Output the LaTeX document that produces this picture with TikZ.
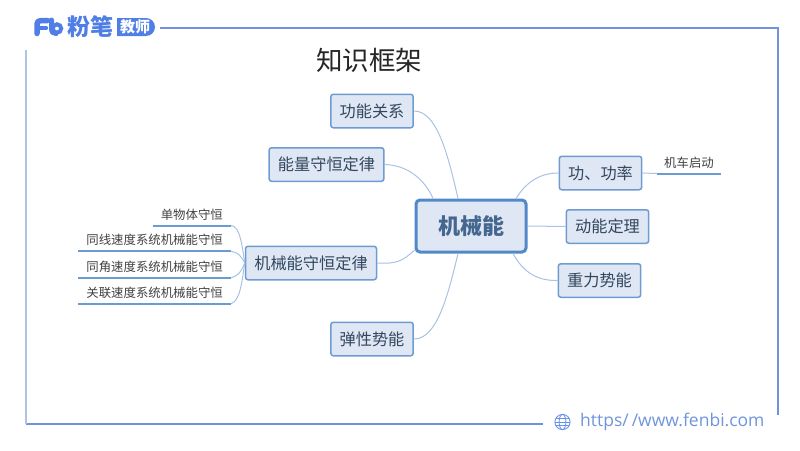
\documentclass[tikz,border=0pt]{standalone}
\usepackage{fontspec}
\setmainfont{Noto Sans CJK SC}
\newfontfamily\webfont{Open Sans}
\usepackage{tikz,pgf}
\usetikzlibrary{positioning, calc}

\definecolor{frameblue}{HTML}{6F94DC}
\definecolor{framepale}{HTML}{AFC1E4}
\definecolor{logoblue}{HTML}{4F7FE6}
\definecolor{boxfill}{HTML}{DEE7F3}
\definecolor{boxedge}{HTML}{6F9BD3}
\definecolor{mainedge}{HTML}{5288C8}
\definecolor{linkblue}{HTML}{A9C2E2}
\definecolor{leafblue}{HTML}{6C9AD2}
\definecolor{boxtext}{HTML}{33475F}
\definecolor{maintext}{HTML}{44668F}

\tikzset{
  topic/.style={draw=boxedge, fill=boxfill, line width=1.5pt, rounded corners=2.5pt, text=boxtext,
    font=\fontsize{16.2}{18}\selectfont, minimum height=33.5pt, inner xsep=8.8pt, inner ysep=0pt},
  mainbox/.style={draw=mainedge, fill=boxfill, line width=3pt, rounded corners=4pt, text=maintext,
    font=\fontsize{22}{24}\selectfont\bfseries, minimum width=110pt, minimum height=52pt},
  leaf/.style={text=black!75, font=\fontsize{12.4}{14}\selectfont, minimum height=22pt,
    inner xsep=8pt, inner ysep=0pt},
  link/.style={draw=linkblue, line width=1pt},
  leafline/.style={draw=leafblue, line width=2pt}
}

\begin{document}
\begin{tikzpicture}[x=1pt, y=-1pt]
\useasboundingbox (0,0) rectangle (800,450);

% frame
\coordinate (T1) at (160,28);
\coordinate (T2) at (777.5,28);
\coordinate (R2) at (777.5,415);
\coordinate (B1) at (26,423.5);
\coordinate (B2) at (543,423.5);
\coordinate (L1) at (26,50);
\draw[frameblue, line width=2pt] (T1) -- (T2) -- (R2);
\draw[frameblue, line width=2pt] (B1) -- (B2);
\draw[framepale, line width=2pt] (L1) -- (B1);

% logo
\draw[logoblue, line width=5.5pt, line cap=round, line join=round]
  (37,33.5) -- (37,25) .. controls (37,21) and (39,20.5) .. (42,20.5) -- (47.5,20.5);
\draw[logoblue, line width=4.4pt, line cap=round] (38,28) -- (46,28);
\draw[logoblue, line width=5pt, line cap=round] (51.5,20) -- (51.5,28) .. controls (51.5,32) and (53,33.5) .. (56,33.5);
\draw[logoblue, line width=4pt] (57,28.5) circle (4.2pt);
\node[text=logoblue, font=\fontsize{23}{24}\selectfont\bfseries, inner sep=0pt] (brand) at (90,27) {粉笔};
\fill[logoblue] (117,18) -- (146,18) arc (90:-90:9pt) -- (117,36) -- cycle;
\node[text=white, font=\fontsize{15}{16}\selectfont\bfseries, inner sep=0pt] (teacher) at (135,27) {教师};

\node[text=black!85, font=\fontsize{26.5}{28}\selectfont, inner sep=0pt] (title) at (369,60) {知识框架};

% mind map
\node[mainbox] (Main) at (471,226) {机械能};
\node[topic] (Guanxi) at (372,111) {功能关系};
\node[topic] (Shouheng) at (326.5,164.5) {能量守恒定律};
\node[topic] (Jixie) at (311,263) {机械能守恒定律};
\node[topic] (Tanxing) at (372,339) {弹性势能};
\node[topic] (Gonglv) at (600.5,173) {功、功率};
\node[topic] (Dongneng) at (607.5,226.5) {动能定理};
\node[topic] (Zhongli) at (599.5,280.5) {重力势能};

\node[leaf, anchor=south west, inner xsep=7pt] (Qidong) at (657,173.5) {机车启动};
\node[leaf, anchor=south east] (Dan) at (231,225.5) {单物体守恒};
\node[leaf, below=3.5pt of Dan.south east, anchor=north east] (Xian) {同线速度系统机械能守恒};
\node[leaf, below=4pt of Xian.south east, anchor=north east] (Jiao) {同角速度系统机械能守恒};
\node[leaf, below=3.5pt of Jiao.south east, anchor=north east] (Lian) {关联速度系统机械能守恒};

\draw[leafline] (Qidong.south west) -- (Qidong.south east);
\draw[leafline] (Dan.south west) -- (Dan.south east);
\draw[leafline] (Xian.south west) -- (Xian.south east);
\draw[leafline] (Jiao.south west) -- (Jiao.south east);
\draw[leafline] (Lian.south west) -- (Lian.south east);

% links
\draw[link] (Guanxi.east) .. controls (436,111) and (447,150) .. ([xshift=-13pt]Main.north);
\draw[link] (Shouheng.east) .. controls (408,165) and (425,180) .. ([xshift=-38pt]Main.north);
\draw[link] (Jixie.east) .. controls (395,264) and (402,262) .. ([yshift=-24pt]Main.west);
\draw[link] (Tanxing.east) .. controls (436,339) and (447,300) .. ([xshift=-13pt]Main.south);
\draw[link] (Gonglv.west) .. controls (538,173) and (525,184) .. ([xshift=45pt]Main.north);
\draw[link] (Dongneng.west) -- (Main.east);
\draw[link] (Zhongli.west) .. controls (535,281) and (522,270) .. ([xshift=42pt]Main.south);
\draw[link] (Gonglv.east) -- (Qidong.south west);
\draw[link] (Dan.south east) .. controls (240,226) and (242,245) .. (Jixie.west);
\draw[link] (Xian.south east) .. controls (238,252) and (241,256) .. (Jixie.west);
\draw[link] (Jiao.south east) .. controls (238,276) and (241,272) .. (Jixie.west);
\draw[link] (Lian.south east) .. controls (240,301) and (242,282) .. (Jixie.west);

% website
\coordinate (G) at (562.5,422);
\draw[logoblue!85!white, line width=0.9pt] (G) circle (7.6pt);
\draw[logoblue!85!white, line width=0.9pt] (G) ellipse (3.4pt and 7.6pt);
\draw[logoblue!85!white, line width=0.9pt] ($(G)+(-7.6,0)$) -- ($(G)+(7.6,0)$);
\draw[logoblue!85!white, line width=0.9pt] ($(G)+(-6.6,-3.5)$) -- ($(G)+(6.6,-3.5)$);
\draw[logoblue!85!white, line width=0.9pt] ($(G)+(-6.6,3.5)$) -- ($(G)+(6.6,3.5)$);
\node[text=frameblue, font=\webfont\fontsize{17.5}{18}\selectfont, anchor=west, inner sep=0pt] (site) at (580,421.5)
  {https/\hspace{3pt}/www.fenbi.com};
\end{tikzpicture}
\end{document}
